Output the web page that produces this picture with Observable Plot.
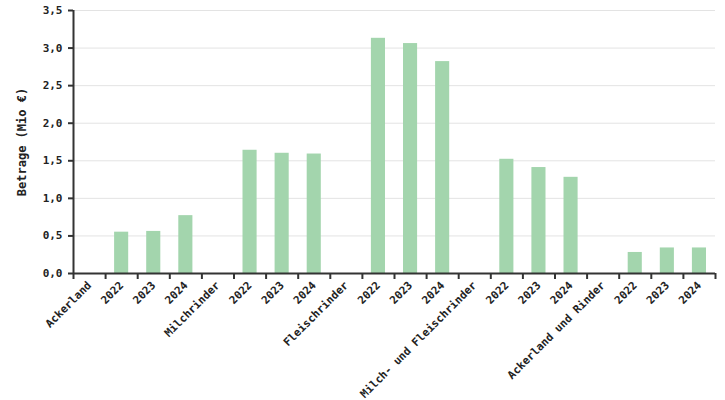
<!DOCTYPE html>
<html>
<head>
<meta charset="utf-8">
<script src="https://cdn.jsdelivr.net/npm/d3@7"></script>
<script src="https://cdn.jsdelivr.net/npm/@observablehq/plot@0.6"></script>
<style>
  html, body { margin: 0; padding: 0; background: #fff; }
</style>
</head>
<body>
<div id="chart"></div>
<script>
const groups = ["Ackerland", "Milchrinder", "Fleischrinder", "Milch- und Fleischrinder", "Ackerland und Rinder"];
const years = ["2022", "2023", "2024"];
const ackerland = [0.55, 0.56, 0.77];
const milchrinder = [1.64, 1.60, 1.59];
const fleischrinder = [3.13, 3.06, 2.82];
const milchFleisch = [1.52, 1.41, 1.28];
const ackerRinder = [0.28, 0.34, 0.34];
const yTicks = [0, 0.5, 1.0, 1.5, 2.0, 2.5, 3.0, 3.5];

const groupValues = [ackerland, milchrinder, fleischrinder, milchFleisch, ackerRinder];
const labels = [];
const rows = [];
groups.forEach((g, gi) => {
  labels.push(g);
  years.forEach((y, yi) => {
    rows.push({i: labels.length, v: groupValues[gi][yi]});
    labels.push(y);
  });
});
const n = labels.length;
const fmt = v => v.toFixed(1).replace(".", ",");

const chart = Plot.plot({
  width: 725,
  height: 400,
  marginLeft: 73,
  marginRight: 10,
  marginTop: 10,
  marginBottom: 127,
  style: {fontFamily: "'DejaVu Sans Mono', monospace", fontSize: "11px", fontWeight: "bold", color: "#222"},
  x: {domain: [0, n], axis: null},
  y: {domain: [0, 3.5], axis: null},
  marks: [
    Plot.gridY(yTicks, {stroke: "#e3e3e3", strokeOpacity: 1}),
    Plot.rectY(rows, {x1: "i", x2: d => d.i + 1, y: "v", fill: "#a3d5ad", insetLeft: 9, insetRight: 9}),
    Plot.axisX(d3.range(n + 1), {tickFormat: () => "", tickSize: 6, stroke: "#333", strokeWidth: 2, label: null}),
    Plot.axisX(d3.range(n).map(i => i + 0.5), {tickFormat: t => labels[Math.round(t - 0.5)], tickSize: 0, tickPadding: 10, tickRotate: -45, label: null, fill: "#222"}),
    Plot.axisY(yTicks, {tickFormat: fmt, tickSize: 5, tickPadding: 6, stroke: "#333", strokeWidth: 2, label: null, fill: "#222"}),
    Plot.text(["Betrage (Mio €)"], {frameAnchor: "left", textAnchor: "middle", dx: -51, rotate: -90, fontSize: 12, fill: "#222", fontWeight: "bold"}),
    Plot.ruleY([0], {stroke: "#333", strokeWidth: 2}),
    Plot.ruleX([0], {stroke: "#333", strokeWidth: 2})
  ]
});
document.getElementById("chart").appendChild(chart);
</script>
</body>
</html>
